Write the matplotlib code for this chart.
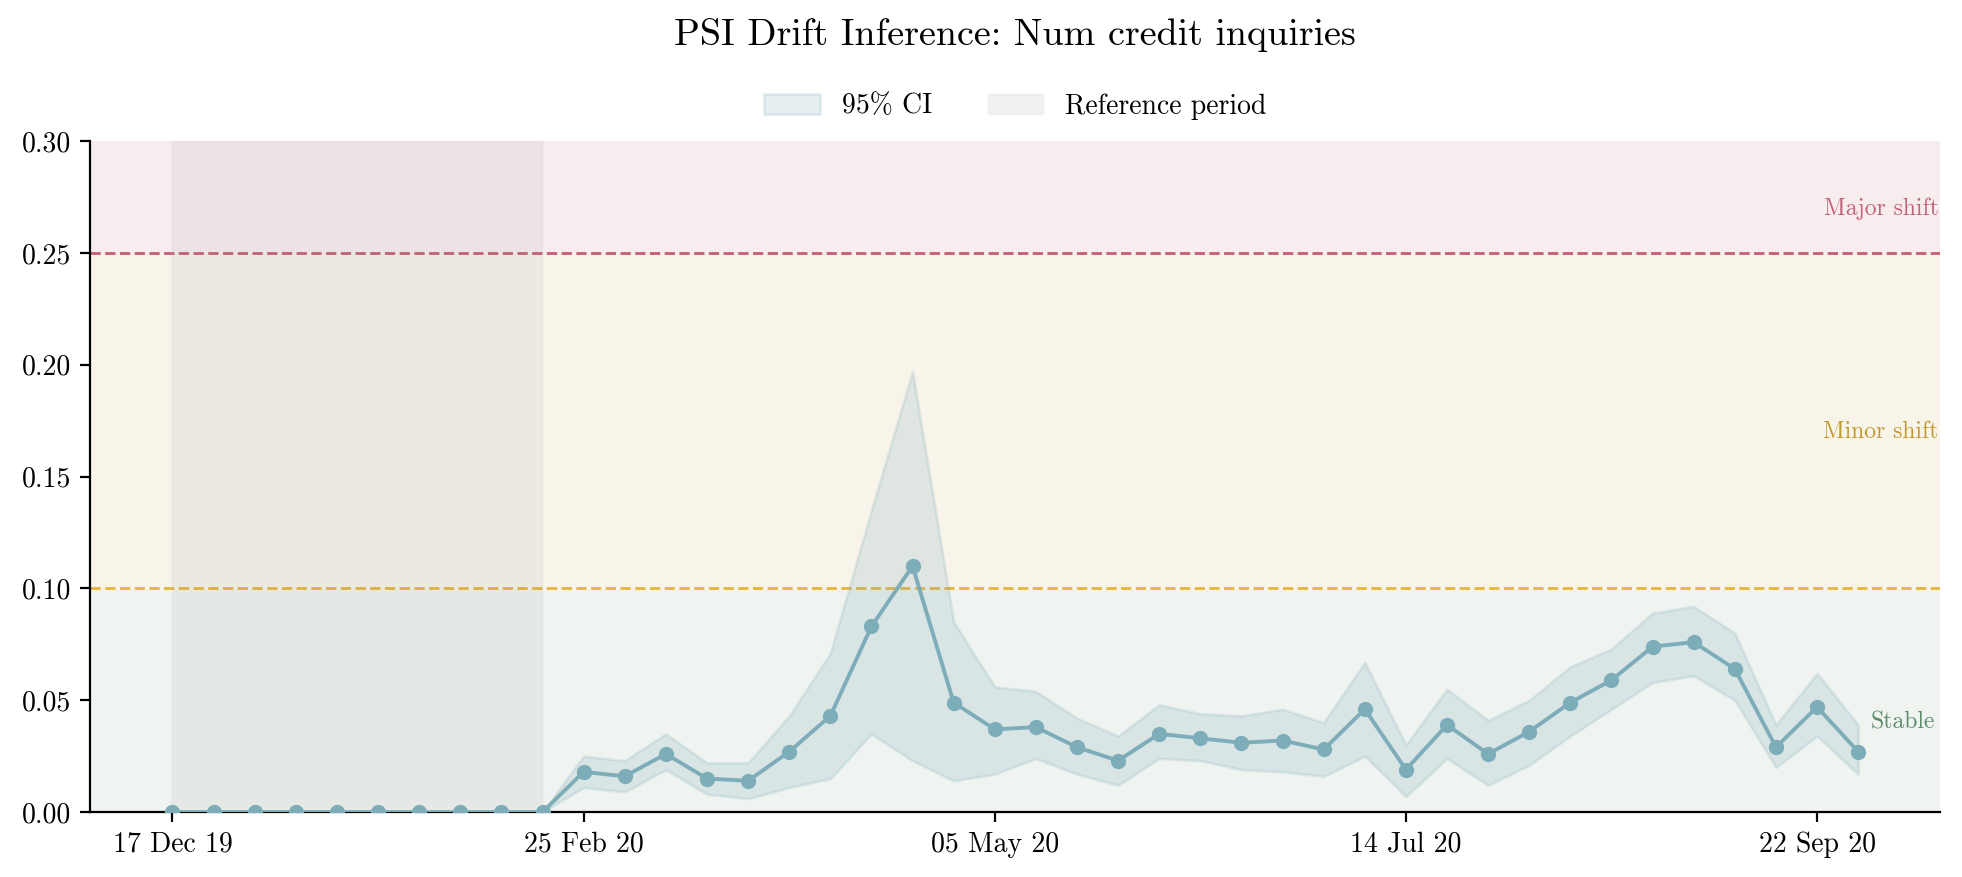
import matplotlib
matplotlib.use("Agg")
import matplotlib.pyplot as plt
import matplotlib.dates as mdates
from matplotlib.patches import Patch
import pandas as pd

# Weekly PSI values, starting 17 Dec 2019.
start_date = "2019-12-17"
psi = [0, 0, 0, 0, 0, 0, 0, 0, 0, 0,
       0.018, 0.016, 0.026, 0.015, 0.014, 0.027, 0.043, 0.083, 0.110, 0.049,
       0.037, 0.038, 0.029, 0.023, 0.035, 0.033, 0.031, 0.032, 0.028, 0.046,
       0.019, 0.039, 0.026, 0.036, 0.049, 0.059, 0.074, 0.076, 0.064, 0.029,
       0.047, 0.027]
ci_upper = [0, 0, 0, 0, 0, 0, 0, 0, 0, 0,
            0.025, 0.023, 0.035, 0.022, 0.022, 0.043, 0.071, 0.135, 0.197, 0.085,
            0.056, 0.054, 0.042, 0.034, 0.048, 0.044, 0.043, 0.046, 0.040, 0.067,
            0.030, 0.055, 0.041, 0.050, 0.065, 0.073, 0.089, 0.092, 0.080, 0.039,
            0.062, 0.039]
ci_lower = [0, 0, 0, 0, 0, 0, 0, 0, 0, 0,
            0.011, 0.009, 0.019, 0.008, 0.006, 0.011, 0.015, 0.035, 0.023, 0.014,
            0.017, 0.024, 0.017, 0.012, 0.024, 0.023, 0.019, 0.018, 0.016, 0.025,
            0.007, 0.024, 0.012, 0.021, 0.034, 0.046, 0.058, 0.061, 0.050, 0.020,
            0.034, 0.017]
ref_weeks = 10
minor_threshold = 0.10
major_threshold = 0.25
y_max = 0.30

dates = pd.date_range(start_date, periods=len(psi), freq="7D")

# LaTeX-like look
plt.rcParams["font.family"] = "serif"
plt.rcParams["font.serif"] = ["cmr10", "DejaVu Serif"]
plt.rcParams["mathtext.fontset"] = "cm"
plt.rcParams["axes.formatter.use_mathtext"] = True

line_color = "#7eadba"
fig = plt.figure(figsize=(9.81, 4.385), dpi=200)
ax_rect = [0.046, 0.074, 0.943, 0.765]
ax = fig.add_axes(ax_rect)

# Zone bands
ax.axhspan(0, minor_threshold, color="#f0f4f0", zorder=0)
ax.axhspan(minor_threshold, major_threshold, color="#f8f4ea", zorder=0)
ax.axhspan(major_threshold, y_max, color="#f7edee", zorder=0)
ax.axhline(minor_threshold, color="#e6b53a", linestyle="--", linewidth=1.0, zorder=1)
ax.axhline(major_threshold, color="#c75d72", linestyle="--", linewidth=1.0, zorder=1)

# Reference period
ax.axvspan(dates[0], dates[ref_weeks - 1], facecolor="#8c8c8c", alpha=0.1,
           edgecolor="#cccccc", linewidth=0.8, zorder=1)

ax.fill_between(dates, ci_lower, ci_upper, color=line_color, alpha=0.2,
                edgecolor=line_color, linewidth=1.0, zorder=2)
ax.plot(dates, psi, color=line_color, linewidth=1.4, marker="o",
        markersize=4.5, zorder=3)

# Zone labels
trans = ax.get_yaxis_transform()
ax.text(0.999, 0.27, "Major shift", transform=trans, ha="right", va="center",
        fontsize=8.5, color="#c2627a")
ax.text(0.999, 0.17, "Minor shift", transform=trans, ha="right", va="center",
        fontsize=8.5, color="#c49a2e")
ax.text(0.997, 0.04, "Stable", transform=trans, ha="right", va="center",
        fontsize=8.5, color="#5f8c6b")

ax.set_ylim(0, y_max)
ax.set_xlim(dates[0] - pd.Timedelta(days=14), dates[-1] + pd.Timedelta(days=14))
ax.set_yticks([0, 0.05, 0.10, 0.15, 0.20, 0.25, 0.30])
ax.yaxis.set_major_formatter(plt.FormatStrFormatter("%.2f"))
ax.set_xticks(dates[::10])
ax.xaxis.set_major_formatter(mdates.DateFormatter("%d %b %y"))
ax.tick_params(labelsize=10)
ax.spines["top"].set_visible(False)
ax.spines["right"].set_visible(False)

handles = [
    Patch(facecolor=line_color, alpha=0.2, edgecolor=line_color, label="95% CI"),
    Patch(facecolor="#8c8c8c", alpha=0.12, edgecolor="#cccccc", label="Reference period"),
]
ax.legend(handles=handles, loc="center", bbox_to_anchor=(0.5, 1.052), ncol=2,
          frameon=False, fontsize=10, columnspacing=2.0)

fig.text(ax_rect[0] + ax_rect[2] / 2, 0.96, "PSI Drift Inference: Num credit inquiries",
         ha="center", va="center", fontsize=13.7)

fig.savefig("out.png", dpi=200)
